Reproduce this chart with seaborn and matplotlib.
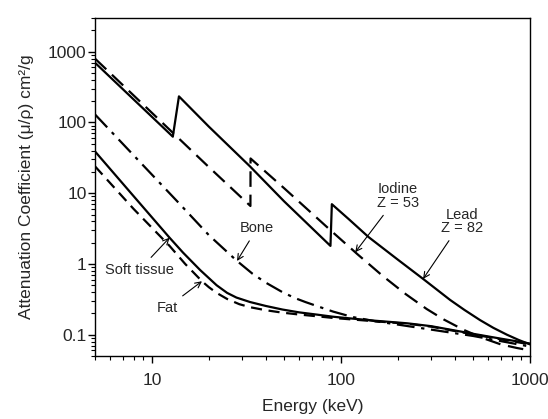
"""Kutle zayiflatma katsayisi - enerji grafigi (log-log)."""
import matplotlib

matplotlib.use("Agg")
import matplotlib.pyplot as plt
import numpy as np
import pandas as pd
import seaborn as sns
from matplotlib.ticker import FuncFormatter, LogLocator

# ---- veriler ----
lead_e = [5, 8, 12.9, 13.9, 20, 33, 50, 88, 89.5, 110, 140, 200, 272, 378, 450, 544, 640,
          755, 870, 1000]
lead_mu = [700, 212, 63, 234, 87.5, 24, 7.7, 1.8, 7.0, 4.3, 2.4, 1.15, 0.615, 0.31, 0.224,
           0.161, 0.125, 0.10, 0.0844, 0.073]

iodine_e = [5, 10, 19.5, 33.2, 33.25, 50, 88, 122, 166, 220, 284, 350, 443, 560, 700, 850,
            1000]
iodine_mu = [800, 137, 25, 6.6, 31, 11.8, 3.0, 1.38, 0.68, 0.375, 0.231, 0.164, 0.118, 0.09,
             0.073, 0.065, 0.06]

bone_e = [5, 8, 13.6, 20, 28, 34, 40, 49, 57, 65, 75, 91, 115, 150, 300, 500, 1000]
bone_mu = [130, 34.4, 7.7, 2.56, 1.12, 0.73, 0.545, 0.40, 0.33, 0.289, 0.253, 0.212, 0.178,
           0.156, 0.118, 0.096, 0.068]

tissue_e = [5, 8, 12.4, 14.6, 18, 22, 25, 28, 33, 40, 49, 60, 75, 90, 112, 150, 224, 300, 500,
            700, 1000]
tissue_mu = [39, 9.1, 2.35, 1.45, 0.82, 0.5, 0.39, 0.335, 0.29, 0.255, 0.227, 0.207, 0.192,
             0.18, 0.17, 0.158, 0.145, 0.132, 0.103, 0.088, 0.075]

fat_e = [5, 8, 12.4, 15, 18.4, 20, 22, 25, 29, 33, 40, 49, 60, 75, 90, 112, 150, 224, 300,
         500, 700, 1000]
fat_mu = [24, 6.0, 1.8, 1.0, 0.57, 0.47, 0.39, 0.32, 0.27, 0.245, 0.222, 0.205, 0.193, 0.182,
          0.173, 0.165, 0.155, 0.143, 0.13, 0.101, 0.086, 0.073]

MALZEMELER = {
    "Lead": (lead_e, lead_mu),
    "Iodine": (iodine_e, iodine_mu),
    "Bone": (bone_e, bone_mu),
    "Soft tissue": (tissue_e, tissue_mu),
    "Fat": (fat_e, fat_mu),
}
CIZGI = {
    "Lead": "-",
    "Iodine": (0, (7, 3.5)),
    "Bone": (0, (8, 3, 1.5, 3)),
    "Soft tissue": "-",
    "Fat": (0, (5, 3)),
}

# etiket, yazi konumu (keV, cm2/g), ok ucunun enerjisi
ETIKETLER = [
    ("Iodine\nZ = 53", (200, 9.1), "Iodine", 119),
    ("Lead\nZ = 82", (437, 4.0), "Lead", 272),
    ("Bone", (36, 3.2), "Bone", 28.2),
    ("Soft tissue", (8.6, 0.83), "Soft tissue", 12.4),
    ("Fat", (12, 0.24), "Fat", 18.4),
]


def _egri_uzerinde(e, mu, hedef):
    return 10 ** np.interp(np.log10(hedef), np.log10(e), np.log10(mu))


sns.set_theme(style="ticks")
plt.rcParams["font.family"] = ["Liberation Sans", "DejaVu Sans"]

df = pd.concat(
    [pd.DataFrame({"malzeme": ad, "enerji": e, "mu": mu}) for ad, (e, mu) in MALZEMELER.items()],
    ignore_index=True,
)

fig = plt.figure(figsize=(5.48, 4.19), dpi=100)
ax = fig.add_axes([95 / 548, 1 - 356 / 419, (530 - 95) / 548, (356 - 18) / 419])

for ad in MALZEMELER:
    d = df[df.malzeme == ad]
    sns.lineplot(data=d, x="enerji", y="mu", ax=ax, color="black", lw=1.6,
                 linestyle=CIZGI[ad], sort=False, estimator=None)

ax.set_xscale("log")
ax.set_yscale("log")
ax.set_xlim(5, 1000)
ax.set_ylim(0.05, 3000)

for metin, xy, ad, uc_e in ETIKETLER:
    e, mu = MALZEMELER[ad]
    uc = (uc_e, _egri_uzerinde(e, mu, uc_e))
    ax.annotate(metin, xy=uc, xytext=xy, ha="center", va="center", fontsize=10.5,
                linespacing=0.95,
                arrowprops=dict(arrowstyle="->", color="black", lw=0.8,
                                shrinkA=2, shrinkB=0))

bicim = FuncFormatter(lambda v, _: f"{v:g}")
ax.xaxis.set_major_formatter(bicim)
ax.yaxis.set_major_formatter(bicim)
ax.xaxis.set_minor_locator(LogLocator(base=10, subs=np.arange(2, 10)))
ax.yaxis.set_minor_locator(LogLocator(base=10, subs=np.arange(2, 10), numticks=20))
ax.xaxis.set_minor_formatter(FuncFormatter(lambda v, _: ""))
ax.yaxis.set_minor_formatter(FuncFormatter(lambda v, _: ""))

ax.tick_params(which="major", length=5, width=1, labelsize=12.5, pad=1, color="black")
ax.tick_params(which="minor", length=3, width=0.8, color="black")
ax.tick_params(axis="x", which="major", pad=7)
for s in ax.spines.values():
    s.set_color("black")
    s.set_linewidth(1)

ax.set_xlabel("Energy (keV)", fontsize=12.5, labelpad=8)
ax.set_ylabel("Attenuation Coefficient (\u03bc/\u03c1) cm\u00b2/g", fontsize=12.5, labelpad=10)

fig.savefig("out.png", dpi=100)
plt.close(fig)
